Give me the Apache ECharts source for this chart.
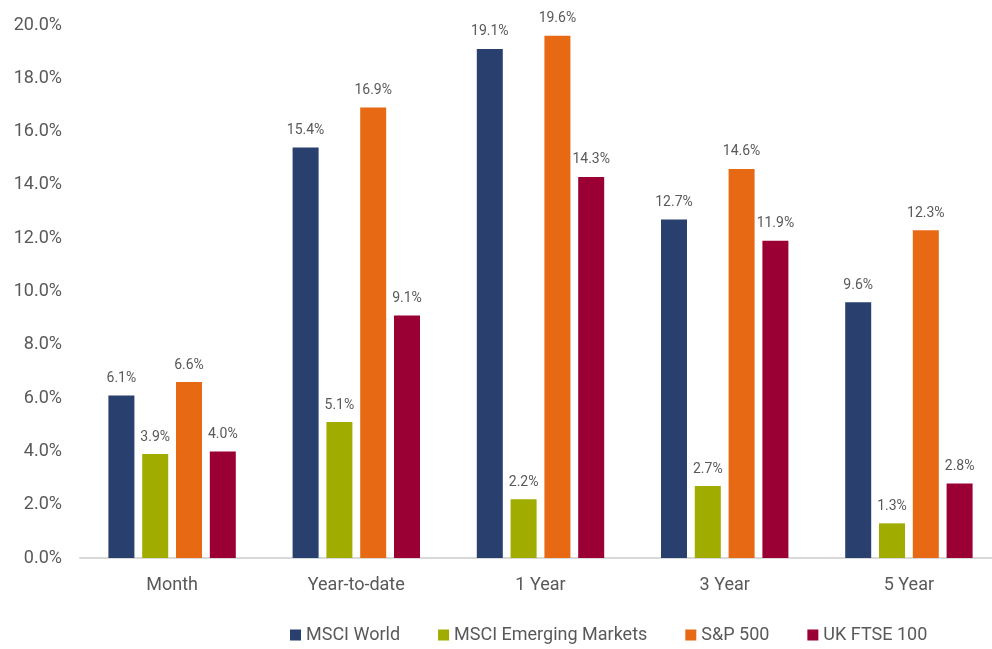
<!DOCTYPE html>
<html>
<head>
<meta charset="utf-8">
<script src="https://cdn.jsdelivr.net/npm/echarts@6/dist/echarts.min.js"></script>
<style>
html,body{margin:0;padding:0;background:#fff;}
#main{width:992px;height:649px;}
</style>
</head>
<body>
<div id="main"></div>
<script>
var periods = ['Month', 'Year-to-date', '1 Year', '3 Year', '5 Year'];
var msciWorld = [6.1, 15.4, 19.1, 12.7, 9.6];
var msciEm = [3.9, 5.1, 2.2, 2.7, 1.3];
var sp500 = [6.6, 16.9, 19.6, 14.6, 12.3];
var ftse100 = [4.0, 9.1, 14.3, 11.9, 2.8];

var font = '"Liberation Sans Narrow", "Roboto", sans-serif';
var myChart = echarts.init(document.getElementById('main'));

function pct(v) {
    return v.toFixed(1) + '%';
}
function bar(name, data, color) {
    return {
        name: name,
        type: 'bar',
        data: data,
        barWidth: 26,
        barGap: '30%',
        itemStyle: {color: color},
        label: {
            show: true,
            position: 'top',
            distance: 10,
            color: '#595959',
            fontFamily: font,
            fontSize: 14,
            formatter: function (p) { return pct(p.value); }
        }
    };
}

var option = {
    animation: false,
    grid: {left: 80, width: 921, top: 25, height: 533, outerBoundsMode: 'none', containLabel: false},
    legend: {
        bottom: 0,
        left: 285,
        itemWidth: 11,
        itemHeight: 11,
        itemGap: 38,
        icon: 'rect',
        textStyle: {color: '#595959', fontFamily: font, fontSize: 18},
        data: ['MSCI World', 'MSCI Emerging Markets', 'S&P 500', 'UK FTSE 100']
    },
    xAxis: {
        type: 'category',
        data: periods,
        axisLine: {lineStyle: {color: '#d9d9d9', width: 2}},
        axisTick: {show: false},
        axisLabel: {color: '#595959', fontFamily: font, fontSize: 18, margin: 18}
    },
    yAxis: {
        type: 'value',
        min: 0,
        max: 20,
        interval: 2,
        splitLine: {show: false},
        axisLine: {show: false},
        axisTick: {show: false},
        axisLabel: {
            color: '#595959', fontFamily: font, fontSize: 18, margin: 18,
            formatter: function (v) { return pct(v); }
        }
    },
    series: [
        bar('MSCI World', msciWorld, '#293f6d'),
        bar('MSCI Emerging Markets', msciEm, '#a0ac00'),
        bar('S&P 500', sp500, '#e86913'),
        bar('UK FTSE 100', ftse100, '#9b0034')
    ]
};
myChart.setOption(option);
</script>
</body>
</html>
